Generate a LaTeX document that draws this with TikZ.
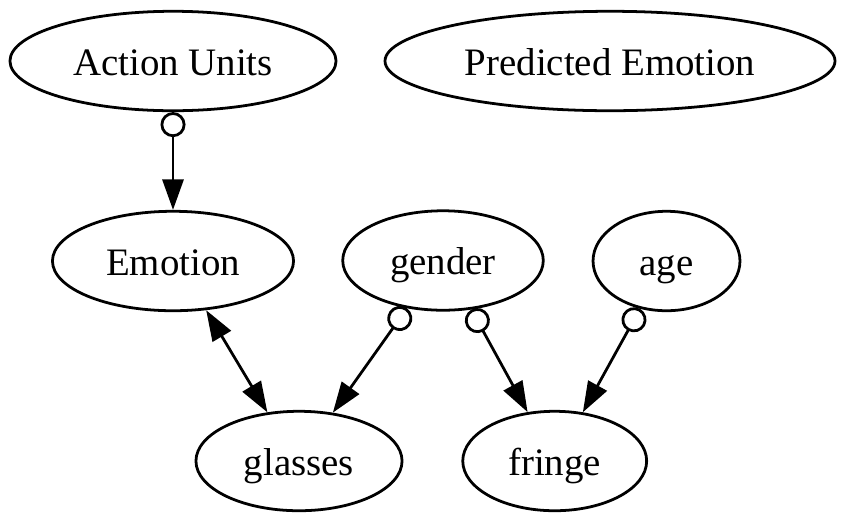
\documentclass[tikz,border=0pt]{standalone}
\usepackage{fontspec}
\setmainfont{Liberation Serif}
\usetikzlibrary{arrows.meta,shapes.geometric}
\tikzset{
  gv/.style={ellipse, draw, line width=1pt, inner sep=0pt, minimum height=35.8pt,
    text height=11pt, text depth=0.8pt,
    font=\fontsize{14}{16}\selectfont},
  gvedge/.style={line width=1pt},
  gvo/.tip={Circle[open,length=9pt,line width=1pt]},
  gvn/.tip={Triangle[length=11pt,width=7.6pt]}
}
\begin{document}
\begin{tikzpicture}[x=0.36pt,y=-0.36pt]
\useasboundingbox (0,0) rectangle (845,522);
\node[gv, minimum width=117.4pt] (au) at (173,61) {Action Units};
\node[gv, minimum width=162pt] (pe) at (610,61) {Predicted Emotion};
\node[gv, minimum width=86.8pt] (emo) at (173,261) {Emotion};
\node[gv, minimum width=72.2pt] (gen) at (443,260.5) {gender};
\node[gv, minimum width=52.9pt] (age) at (666.5,261) {age};
\node[gv, minimum width=74.2pt] (gl) at (299,461) {glasses};
\node[gv, minimum width=66.2pt] (fr) at (554.7,461) {fringe};
\draw[gvedge, gvo-gvn] (au.south) -- (emo.north);
\draw[gvedge, gvn-gvn] (emo.-56.4) -- (gl.123);
\draw[gvedge, gvo-gvn] (gen.-127) -- (gl.55.4);
\draw[gvedge, gvo-gvn] (gen.-60.6) -- (fr.119.5);
\draw[gvedge, gvo-gvn] (age.-119.6) -- (fr.60.5);
\end{tikzpicture}
\end{document}
